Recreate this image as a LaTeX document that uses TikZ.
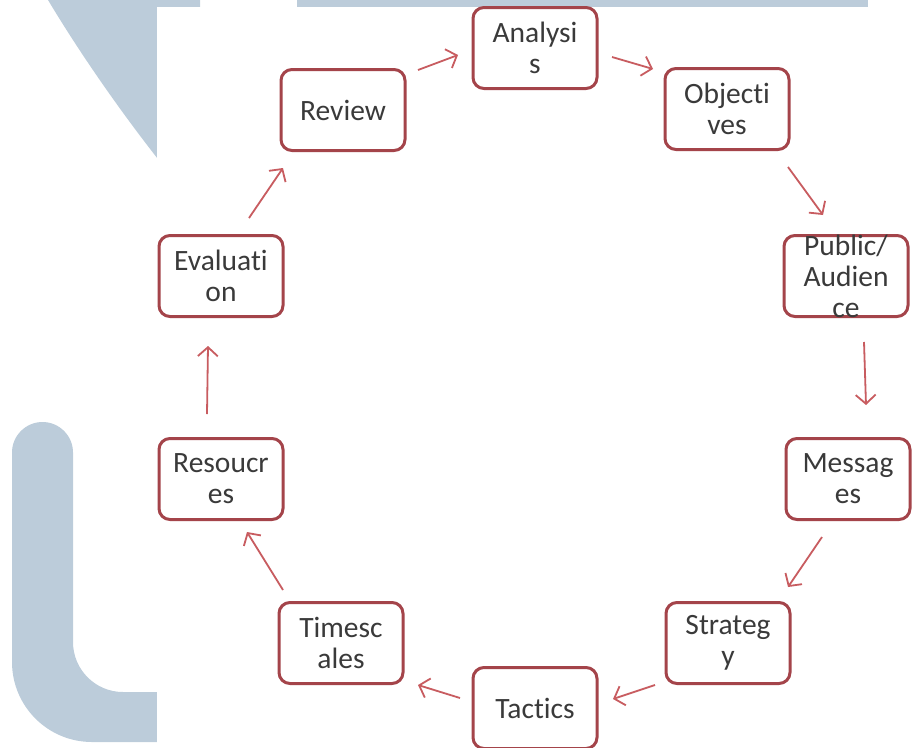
\documentclass[tikz,border=0pt]{standalone}
\usepackage{fontspec}
\setmainfont[RawFeature={-liga;-clig}]{Carlito}
\usetikzlibrary{arrows.meta,calc}
\definecolor{bgc}{RGB}{188,204,218}
\definecolor{boxc}{RGB}{164,68,74}
\definecolor{arrc}{RGB}{200,92,96}
\definecolor{txtc}{RGB}{58,58,58}
\begin{document}
\begin{tikzpicture}[x=1pt,y=-1pt,
  stage/.style={draw=boxc, line width=3pt, rounded corners=11pt,
    minimum width=124pt, minimum height=81pt, inner sep=0pt,
    text=txtc, align=center, fill=white,
    font=\fontsize{29.5}{31}\selectfont},
  stagetext/.style={text=txtc, align=center, inner sep=0pt,
    font=\fontsize{29.5}{31}\selectfont},
  flow/.style={draw=arrc, line width=1.8pt,
    -{Straight Barb[length=9pt,width=20pt,line width=1.8pt]}}]
\useasboundingbox (0,0) rectangle (912,747);
% background watermark shapes
\fill[bgc] (48,0) .. controls (75,45) and (115,105) .. (165,168) -- (200,110) -- (200,0) -- cycle;
\fill[bgc] (297,0) rectangle (868,7);
\fill[bgc] (170,742) -- (92,742) .. controls (47.8,742) and (12,706.2) .. (12,662)
  -- (12,452.5) .. controls (12,435.7) and (25.7,422) .. (42.5,422)
  .. controls (59.3,422) and (73,435.7) .. (73,452.5)
  -- (73,642) .. controls (73,669.6) and (95.4,692) .. (123,692) -- (170,692) -- cycle;
\fill[white] (157,7) rectangle (912,747);
% stages
\node[stage] (ana) at (535,48) {Analysi\\s};
\node[stage] (obj) at (727,109) {Objecti\\ves};
\node[stage, label={[stagetext]center:{Public/\\Audien\\ce}}] (pub) at (846,276) {};
\node[stage] (mes) at (848,479) {Messag\\es};
\node[stage] (str) at (728,643) {Strateg\\y};
\node[stage] (tac) at (535,708) {Tactics};
\node[stage] (tim) at (341,643) {Timesc\\ales};
\node[stage] (res) at (221,479) {Resoucr\\es};
\node[stage] (eva) at (221,276) {Evaluati\\on};
\node[stage] (rev) at (343,110) {Review};
% connectors
\draw[flow] ($(rev.center)+(75,-40)$) -- ($(ana.center)+(-77,7)$);
\draw[flow] ($(ana.center)+(77,9)$) -- ($(obj.center)+(-74,-40)$);
\draw[flow] ($(obj.center)+(61,58)$) -- ($(pub.center)+(-23,-61)$);
\draw[flow] ($(pub.center)+(18,66)$) -- ($(mes.center)+(18,-74)$);
\draw[flow] ($(mes.center)+(-26,58)$) -- ($(str.center)+(60,-56)$);
\draw[flow] ($(str.center)+(-73,42)$) -- ($(tac.center)+(78,-9)$);
\draw[flow] ($(tac.center)+(-75,-10)$) -- ($(tim.center)+(77,42)$);
\draw[flow] ($(tim.center)+(-58,-53)$) -- ($(res.center)+(26,53)$);
\draw[flow] ($(res.center)+(-14,-65)$) -- ($(eva.center)+(-13,70)$);
\draw[flow] ($(eva.center)+(28,-58)$) -- ($(rev.center)+(-60,58)$);
\end{tikzpicture}
\end{document}
